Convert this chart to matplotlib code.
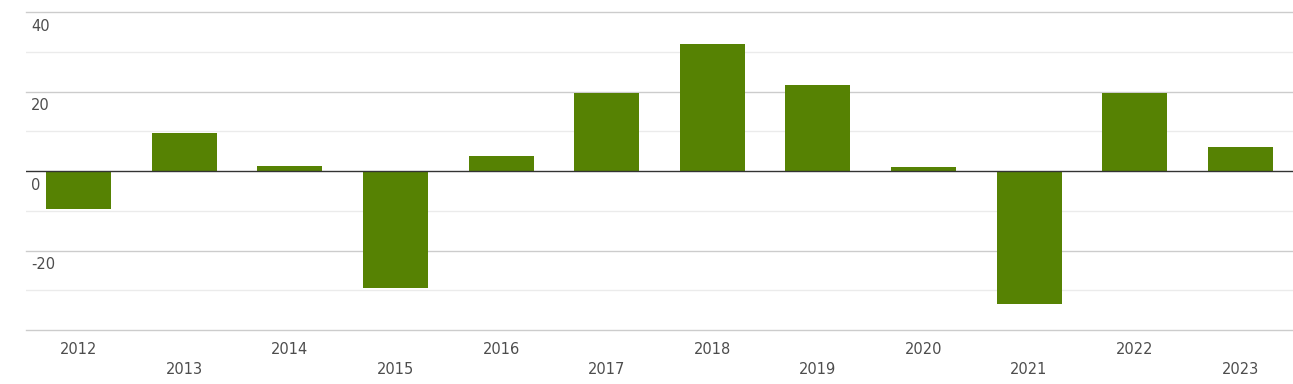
import matplotlib
matplotlib.use('Agg')
import matplotlib.pyplot as plt
import numpy as np

years = ['2012', '2013', '2014', '2015', '2016', '2017', '2018', '2019', '2020', '2021', '2022', '2023']
values = [-9.6, 9.6, 1.3, -29.4, 3.8, 19.6, 32.0, 21.7, 1.0, -33.4, 19.6, 6.0]
y_labels = [40, 20, 0, -20]

W, H = 1293, 384
fig = plt.figure(figsize=(W / 100, H / 100), dpi=100)
ax = fig.add_axes([26 / W, 1 - 330 / H, 1 - 26 / W, (330 - 12) / H])

x = np.arange(len(years))
ax.bar(x, values, width=0.615, color='#568203', zorder=3)

ax.set_xlim(-0.5, len(years) - 0.5)
ax.set_ylim(-40, 40)

# grid lines: darker every 20, lighter every 10
for v in range(-40, 41, 10):
    if v == 0:
        ax.axhline(v, color='#333333', lw=1.0, zorder=4)
    elif v % 20 == 0:
        ax.axhline(v, color='#cccccc', lw=1.0, zorder=1, clip_on=False)
    else:
        ax.axhline(v, color='#ebebeb', lw=1.0, zorder=1)

for v in y_labels:
    ax.text(-0.45, v - 1.7, str(v), ha='left', va='top', fontsize=10.5, color='#4d4d4d')

for i, yr in enumerate(years):
    ypix = 349 if i % 2 == 0 else 369
    fig.text(ax.transData.transform((i, 0))[0] / W, 1 - ypix / H, yr,
             ha='center', va='center', fontsize=10.5, color='#4d4d4d')

ax.set_xticks([])
ax.set_yticks([])
for s in ax.spines.values():
    s.set_visible(False)

fig.savefig('out.png', dpi=100)
